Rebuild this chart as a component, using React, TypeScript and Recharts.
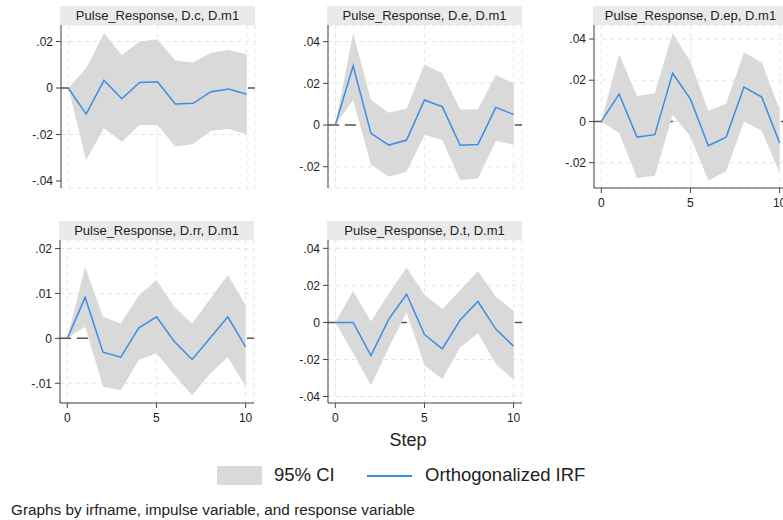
import { ComposedChart, Area, Line, XAxis, YAxis, CartesianGrid, ReferenceLine } from 'recharts'

const steps = [0, 1, 2, 3, 4, 5, 6, 7, 8, 9, 10]
const xTicks = [0, 5, 10]

// D.c
const cIrf = [0, -0.0112, 0.0033, -0.0046, 0.0024, 0.0027, -0.0069, -0.0066, -0.0016, -0.0004, -0.0027]
const cHi = [0, 0.0085, 0.0235, 0.0142, 0.02, 0.021, 0.0118, 0.011, 0.0152, 0.0163, 0.0145]
const cLo = [0, -0.031, -0.0173, -0.0231, -0.0159, -0.0159, -0.0252, -0.0241, -0.0184, -0.0176, -0.0199]

// D.e
const eIrf = [0, 0.0283, -0.004, -0.0096, -0.0072, 0.012, 0.0088, -0.0097, -0.0093, 0.0085, 0.0051]
const eHi = [0, 0.044, 0.012, 0.0059, 0.008, 0.0291, 0.0248, 0.0075, 0.0075, 0.024, 0.02]
const eLo = [0, 0.012, -0.0189, -0.0248, -0.0224, -0.0048, -0.0072, -0.0264, -0.0256, -0.0077, -0.0093]

// D.ep
const epIrf = [0, 0.0133, -0.0076, -0.0064, 0.0234, 0.0108, -0.0118, -0.0076, 0.0167, 0.0118, -0.0105]
const epHi = [0, 0.0326, 0.0124, 0.0137, 0.0428, 0.029, 0.0052, 0.0086, 0.0336, 0.0286, 0.0057]
const epLo = [0, -0.0056, -0.0274, -0.0263, 0.0032, -0.0073, -0.0287, -0.0242, 0, -0.0045, -0.025]

// D.rr
const rrIrf = [0, 0.0091, -0.0031, -0.0042, 0.0023, 0.0048, -0.0007, -0.0047, 0, 0.0048, -0.0019]
const rrHi = [0, 0.0159, 0.0048, 0.0033, 0.0095, 0.013, 0.007, 0.0033, 0.0087, 0.0141, 0.0074]
const rrLo = [0, 0.0026, -0.0107, -0.0116, -0.0048, -0.0033, -0.0081, -0.0127, -0.0079, -0.0042, -0.0107]

// D.t
const tIrf = [0, 0, -0.0179, 0.0018, 0.0152, -0.0066, -0.0143, 0.0013, 0.0113, -0.0036, -0.0129]
const tHi = [0, 0.017, 0.0005, 0.0156, 0.0296, 0.0149, 0.0072, 0.0174, 0.0278, 0.0138, 0.0063]
const tLo = [0, -0.0165, -0.034, -0.0135, 0.0054, -0.0233, -0.0305, -0.0135, -0.0059, -0.0224, -0.031]

const FONT = '"Liberation Sans", Arial, sans-serif'
const BLUE = '#3a8ee6'
const BAND = '#d9d9d9'
const AXIS = '#444'

const PLOT_W = 194
const PLOT_H = 163
const Y_AXIS_W = 61

function fmt(v: number) {
  if (v === 0) return '0'
  return v.toFixed(2).replace('0.', '.')
}

function build(irf: number[], lo: number[], hi: number[]) {
  return steps.map((s, i) => ({ step: s, irf: irf[i], band: [lo[i], hi[i]] }))
}

interface PanelProps {
  title: string
  left: number
  top: number
  irf: number[]
  lo: number[]
  hi: number[]
  domain: [number, number]
  ticks: number[]
  showX: boolean
}

function Panel({ title, left, top, irf, lo, hi, domain, ticks, showX }: PanelProps) {
  const data = build(irf, lo, hi)
  const mTop = 6
  const w = Y_AXIS_W + PLOT_W + 4
  const h = mTop + PLOT_H + (showX ? 30 : 2)
  return (
    <>
      <div
        style={{
          position: 'absolute',
          left: left - 1,
          top: top - 19,
          width: PLOT_W + 1,
          height: 19,
          background: '#eaeaea',
          color: '#222',
          fontSize: 13,
          lineHeight: '20px',
          textAlign: 'center',
          whiteSpace: 'nowrap',
        }}
      >
        {title}
      </div>
      <div style={{ position: 'absolute', left: left - Y_AXIS_W, top: top - mTop }}>
        <ComposedChart
          width={w}
          height={h}
          data={data}
          margin={{ top: mTop, right: 4, left: 0, bottom: showX ? 0 : 2 }}
        >
          <CartesianGrid stroke="#e4e4e4" strokeDasharray="4 4" />
          <ReferenceLine y={0} stroke="#555" strokeWidth={1.5} strokeDasharray="11 6" zIndex={50} />
          <XAxis
            dataKey="step"
            type="number"
            domain={[-0.41, 10.47]}
            ticks={xTicks}
            hide={!showX}
            height={30}
            tickSize={5}
            tickMargin={5}
            tick={{ fontSize: 12, fill: '#222', fontFamily: FONT }}
            axisLine={{ stroke: AXIS }}
            tickLine={{ stroke: AXIS }}
            allowDataOverflow
          />
          <YAxis
            type="number"
            domain={domain}
            ticks={ticks}
            width={Y_AXIS_W}
            tickSize={5}
            tickMargin={3}
            tickFormatter={fmt}
            tick={{ fontSize: 12, fill: '#222', fontFamily: FONT }}
            axisLine={{ stroke: AXIS }}
            tickLine={{ stroke: AXIS }}
            allowDataOverflow
          />
          <Area
            dataKey="band"
            type="linear"
            fill={BAND}
            fillOpacity={1}
            stroke="none"
            isAnimationActive={false}
            activeDot={false}
          />
          <Line
            dataKey="irf"
            type="linear"
            stroke={BLUE}
            strokeWidth={1.5}
            dot={false}
            activeDot={false}
            isAnimationActive={false}
          />
        </ComposedChart>
      </div>
    </>
  )
}

export default function App() {
  return (
    <div
      style={{
        position: 'absolute',
        left: 0,
        top: 0,
        width: 783,
        height: 520,
        overflow: 'hidden',
        background: '#fff',
        fontFamily: FONT,
        color: '#222',
      }}
    >
      <Panel title="Pulse_Response, D.c, D.m1" left={61} top={25} irf={cIrf} lo={cLo} hi={cHi}
        domain={[-0.043, 0.0271]} ticks={[-0.04, -0.02, 0, 0.02]} showX={false} />
      <Panel title="Pulse_Response, D.e, D.m1" left={328} top={25} irf={eIrf} lo={eLo} hi={eHi}
        domain={[-0.0302, 0.048]} ticks={[-0.02, 0, 0.02, 0.04]} showX={false} />
      <Panel title="Pulse_Response, D.ep, D.m1" left={594} top={25} irf={epIrf} lo={epLo} hi={epHi}
        domain={[-0.0323, 0.0468]} ticks={[-0.02, 0, 0.02, 0.04]} showX />
      <Panel title="Pulse_Response, D.rr, D.m1" left={60} top={240} irf={rrIrf} lo={rrLo} hi={rrHi}
        domain={[-0.0144, 0.0219]} ticks={[-0.01, 0, 0.01, 0.02]} showX />
      <Panel title="Pulse_Response, D.t, D.m1" left={328} top={240} irf={tIrf} lo={tLo} hi={tHi}
        domain={[-0.0435, 0.0445]} ticks={[-0.04, -0.02, 0, 0.02, 0.04]} showX />

      <div style={{ position: 'absolute', left: 308, width: 200, top: 429, textAlign: 'center', fontSize: 18, lineHeight: '22px' }}>
        Step
      </div>

      <div style={{ position: 'absolute', left: 217, top: 466, width: 45, height: 19, background: BAND }} />
      <div style={{ position: 'absolute', left: 274, top: 464, fontSize: 18.5, lineHeight: '22px' }}>95% CI</div>
      <div style={{ position: 'absolute', left: 367, top: 475, width: 45, height: 2, background: BLUE }} />
      <div style={{ position: 'absolute', left: 425, top: 464, fontSize: 18.5, lineHeight: '22px' }}>Orthogonalized IRF</div>

      <div style={{ position: 'absolute', left: 11, top: 501, fontSize: 15.3, lineHeight: '18px', whiteSpace: 'nowrap' }}>
        Graphs by irfname, impulse variable, and response variable
      </div>
    </div>
  )
}
